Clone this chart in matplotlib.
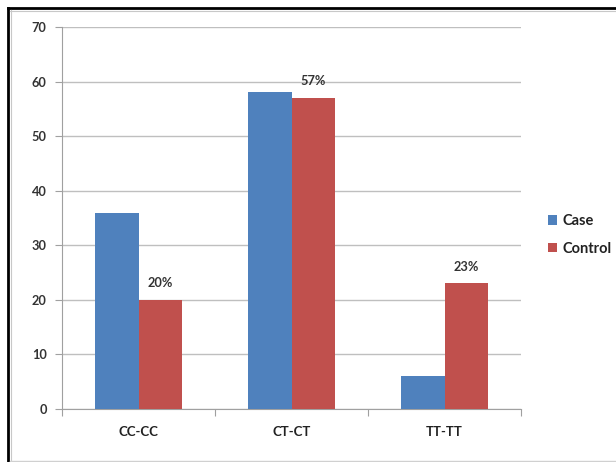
import matplotlib
matplotlib.use("Agg")
import matplotlib.pyplot as plt
from matplotlib.lines import Line2D
import numpy as np

categories = ["CC-CC", "CT-CT", "TT-TT"]
case_values = [36, 58, 6]
control_values = [20, 57, 23]
control_labels = ["20%", "57%", "23%"]
y_ticks = [0, 10, 20, 30, 40, 50, 60, 70]

blue = "#4F81BD"
red = "#C0504D"
grid_c = "#BFBFBF"
font = ["Lato", "DejaVu Sans"]

W, H = 616, 462
fig = plt.figure(figsize=(6.16, 4.62), dpi=100)
fig.patch.set_facecolor("white")

def fline(xs, ys, **kw):
    fig.add_artist(Line2D([v / W for v in xs], [1 - v / H for v in ys],
                          transform=fig.transFigure, **kw))

# outer frame: black left/top, gray inner lines
fline([8, 8], [8, 462], color="black", linewidth=2.0)
fline([8, 616], [8, 8], color="black", linewidth=2.0)
fline([11, 11], [10, 460], color="#C8C8C8", linewidth=0.8)
fline([10, 616], [11, 11], color="#C8C8C8", linewidth=0.8)
fline([10, 616], [460.5, 460.5], color="#D0D0D0", linewidth=1.0)

ax = fig.add_axes([62 / W, 1 - 409 / H, 459 / W, 382 / H])
x = np.arange(len(categories))
w = 0.287
b1 = ax.bar(x - w / 2, case_values, w, color=blue, label="Case", zorder=3)
b2 = ax.bar(x + w / 2, control_values, w, color=red, label="Control", zorder=3)

for xi, v, lab in zip(x, control_values, control_labels):
    ax.text(xi + w / 2, v + 3.1, lab, ha="center", va="center", fontsize=9.2,
            family=font, fontweight="bold", color="#333333", zorder=4)

ax.set_xlim(-0.5, 2.5)
ax.set_ylim(0, 70)
ax.set_yticks(y_ticks)
ax.set_yticklabels([str(t) for t in y_ticks], family=font, fontweight="bold",
                   fontsize=9.2, color="#333333")
ax.set_xticks(x)
ax.set_xticklabels(categories, family=font, fontweight="bold", fontsize=9.5, color="#222222")
ax.tick_params(axis="x", length=0, pad=12)
ax.set_xticks([-0.5, 0.5, 1.5, 2.5], minor=True)
ax.tick_params(axis="x", which="minor", length=5, color="#A0A0A0", width=0.8)
ax.tick_params(axis="y", length=5, color="#A0A0A0", width=0.8, pad=6)
ax.yaxis.grid(True, color=grid_c, linewidth=1.0, zorder=0)
ax.set_axisbelow(True)
for s in ["top", "right"]:
    ax.spines[s].set_visible(False)
for s in ["left", "bottom"]:
    ax.spines[s].set_color("#A0A0A0")
    ax.spines[s].set_linewidth(0.8)

leg = fig.legend(handles=[b1, b2], labels=["Case", "Control"], loc="center left",
                 bbox_to_anchor=(535 / W, 1 - 235 / H), frameon=False,
                 prop={"family": font, "weight": "bold", "size": 10.5},
                 handlelength=0.6, handleheight=0.6, handletextpad=0.4, labelspacing=0.95)
for t in leg.get_texts():
    t.set_color("#222222")

fig.savefig("out.png", dpi=100)
